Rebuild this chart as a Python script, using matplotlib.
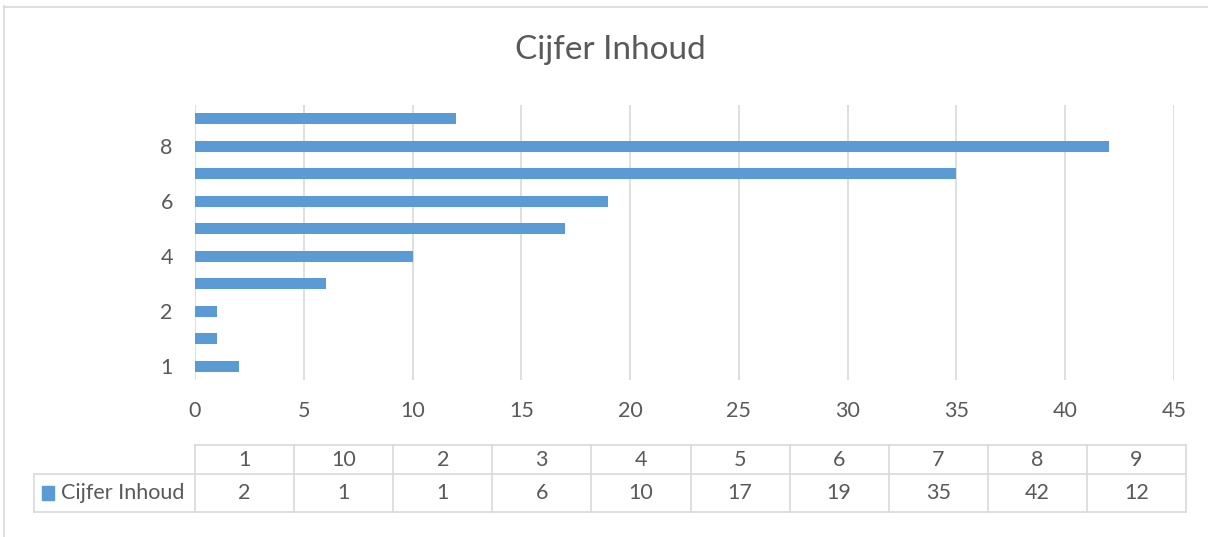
import matplotlib.pyplot as plt
from matplotlib.lines import Line2D
from matplotlib.patches import Rectangle

plt.rcParams['font.family'] = ['Lato', 'DejaVu Sans']

title = 'Cijfer Inhoud'
series_name = 'Cijfer Inhoud'
categories = ['1', '10', '2', '3', '4', '5', '6', '7', '8', '9']
values = [2, 1, 1, 6, 10, 17, 19, 35, 42, 12]
x_ticks = [0, 5, 10, 15, 20, 25, 30, 35, 40, 45]

W, H = 1208, 537
bar_color = '#5B9BD5'
grid_color = '#D9D9D9'
text_color = '#595959'
fs = 15.5


def fx(px):
    return px / W


def fy(py):
    return 1 - py / H


fig = plt.figure(figsize=(W / 100, H / 100), dpi=100)

# chart border (top and left visible)
fig.add_artist(Line2D([fx(4), fx(4)], [fy(6), fy(537)], color=grid_color, lw=1.2))
fig.add_artist(Line2D([fx(4), fx(1208)], [fy(6.5), fy(6.5)], color=grid_color, lw=1.2))

fig.text(fx(610), fy(50), title, ha='center', va='center', fontsize=24, color=text_color)

ax = fig.add_axes([fx(195), fy(380), fx(1174 - 195), (380 - 105) / H])
pos = list(range(len(categories)))
ax.barh(pos, values, height=0.39, color=bar_color, zorder=3)
ax.set_ylim(-0.5, len(categories) - 0.5)
ax.set_xlim(x_ticks[0], x_ticks[-1])
ax.set_xticks(x_ticks)
ax.set_yticks(pos[::2])
ax.set_yticklabels(categories[::2])
ax.grid(axis='x', color=grid_color, lw=1.2, zorder=0)
for s in ax.spines.values():
    s.set_visible(False)
ax.tick_params(length=0, labelsize=fs, colors=text_color)
ax.tick_params(axis='x', pad=15)
ax.tick_params(axis='y', pad=16)

# data table
t_left, t_right = 195, 1186
t_top, t_mid, t_bot = 445, 474, 512
lab_left = 34
col_w = (t_right - t_left) / len(categories)
lw = 1.2
fig.add_artist(Line2D([fx(t_left), fx(t_right)], [fy(t_top), fy(t_top)], color=grid_color, lw=lw))
fig.add_artist(Line2D([fx(lab_left), fx(t_right)], [fy(t_mid), fy(t_mid)], color=grid_color, lw=lw))
fig.add_artist(Line2D([fx(lab_left), fx(t_right)], [fy(t_bot), fy(t_bot)], color=grid_color, lw=lw))
fig.add_artist(Line2D([fx(lab_left), fx(lab_left)], [fy(t_mid), fy(t_bot)], color=grid_color, lw=lw))
for k in range(len(categories) + 1):
    x = t_left + k * col_w
    fig.add_artist(Line2D([fx(x), fx(x)], [fy(t_top), fy(t_bot)], color=grid_color, lw=lw))
for k, (c, v) in enumerate(zip(categories, values)):
    cx = t_left + (k + 0.5) * col_w
    fig.text(fx(cx), fy((t_top + t_mid) / 2), c, ha='center', va='center', fontsize=fs, color=text_color)
    fig.text(fx(cx), fy((t_mid + t_bot) / 2), str(v), ha='center', va='center', fontsize=fs, color=text_color)

fig.add_artist(Rectangle((fx(42), fy(500)), fx(12), 14 / H, color=bar_color))
fig.text(fx(61), fy((t_mid + t_bot) / 2), series_name, ha='left', va='center', fontsize=fs, color=text_color)

plt.savefig('out.png', dpi=100)
